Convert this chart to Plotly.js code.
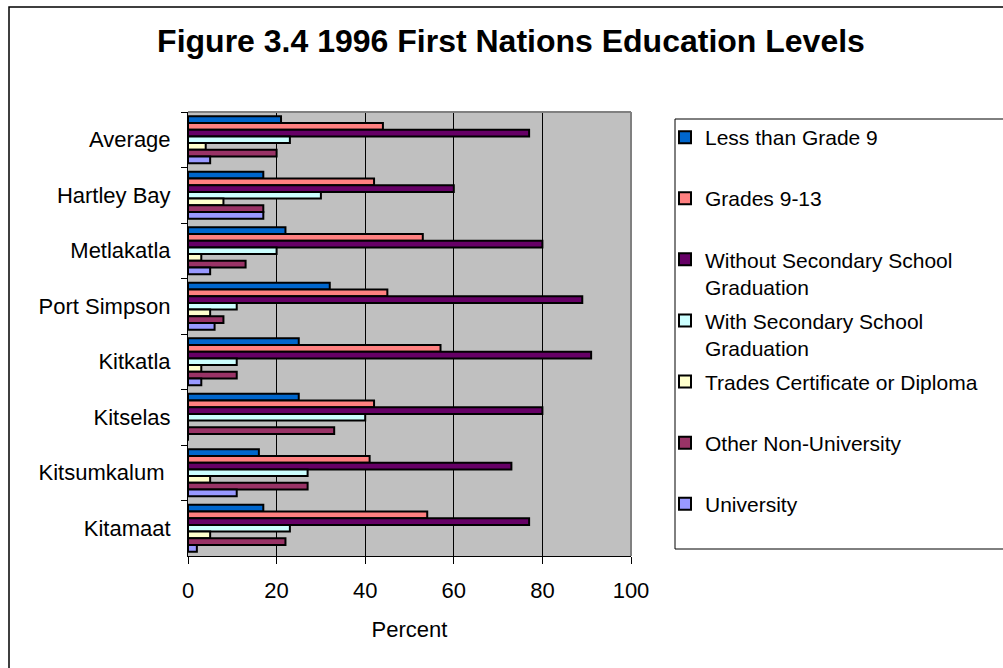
<!DOCTYPE html>
<html>
<head>
<meta charset="utf-8">
<script src="https://cdn.plot.ly/plotly-3.0.1.min.js"></script>
<style>
html,body{margin:0;padding:0;background:#fff;overflow:hidden;}
#chart{width:1003px;height:668px;}
</style>
</head>
<body>
<div id="chart"></div>
<script>
// ---- data ----
var communities = ["Average", "Hartley Bay", "Metlakatla", "Port Simpson", "Kitkatla", "Kitselas", "Kitsumkalum ", "Kitamaat"];
var seriesNames = ["Less than Grade 9", "Grades 9-13", "Without Secondary School<br>Graduation", "With Secondary School<br>Graduation", "Trades Certificate or Diploma", "Other Non-University", "University"];
var lessThanGrade9   = [21, 17, 22, 32, 25, 25, 16, 17];
var grades9to13      = [44, 42, 53, 45, 57, 42, 41, 54];
var withoutSecondary = [77, 60, 80, 89, 91, 80, 73, 77];
var withSecondary    = [23, 30, 20, 11, 11, 40, 27, 23];
var tradesCert       = [4, 8, 3, 5, 3, 0, 5, 5];
var otherNonUniv     = [20, 17, 13, 8, 11, 33, 27, 22];
var university       = [5, 17, 5, 6, 3, 0, 11, 2];
var xTickValues = [0, 20, 40, 60, 80, 100];

// ---- styling ----
var colors = ["#0066CC", "#FF8080", "#660066", "#CCFFFF", "#FFFFCC", "#993366", "#9999FF"];
var allSeries = [lessThanGrade9, grades9to13, withoutSecondary, withSecondary, tradesCert, otherNonUniv, university];

var W = 1003, H = 668;
var mL = 188, mR = 372, mT = 112, mB = 112;
var pw = W - mL - mR, ph = H - mT - mB;
function px2x(p){ return (p - mL) / pw; }
function px2y(p){ return (H - mB - p) / ph; }

var font = "Liberation Sans, Arial, sans-serif";

var traces = allSeries.map(function(vals, i){
  var nm = seriesNames[i];
  if (nm.indexOf("<br>") < 0) nm = nm + "<br>&nbsp;";
  return {
    type: "bar",
    orientation: "h",
    name: nm,
    y: communities,
    x: vals,
    legendgroup: "g" + i,
    marker: {color: colors[i], line: {color: "#000", width: 2}},
    hoverinfo: "x+y"
  };
});

var layout = {
  width: W, height: H,
  margin: {l: mL, r: mR, t: mT, b: mB, pad: 0},
  paper_bgcolor: "#ffffff",
  plot_bgcolor: "#C0C0C0",
  font: {family: font, size: 22, color: "#000"},
  title: {
    text: "<b>Figure 3.4 1996 First Nations Education Levels</b>",
    font: {family: font, size: 32, color: "#000"},
    x: 511 / W, xref: "container", xanchor: "center",
    y: 1 - 41 / H, yref: "container", yanchor: "middle"
  },
  barmode: "group",
  bargap: 0.15,
  bargroupgap: 0,
  xaxis: {
    range: [0, 100],
    tickvals: xTickValues,
    ticks: "outside", ticklen: 7, tickcolor: "#000", tickwidth: 1,
    showgrid: true, gridcolor: "#000", gridwidth: 1,
    showline: true, linecolor: "#000", linewidth: 1,
    zeroline: false,
    tickfont: {family: font, size: 22, color: "#000"},
    ticklabelstandoff: 8,
    title: {text: "Percent", font: {family: font, size: 22, color: "#000"}, standoff: 19},
    fixedrange: true
  },
  yaxis: {
    type: "category",
    autorange: "reversed",
    ticks: "outside", ticklen: 6, tickcolor: "#000", tickwidth: 1,
    tickson: "boundaries",
    showgrid: false,
    showline: true, linecolor: "#000", linewidth: 1,
    tickfont: {family: font, size: 22, color: "#000"},
    ticklabelstandoff: 12,
    fixedrange: true
  },
  showlegend: true,
  legend: {
    x: px2x(665), xanchor: "left",
    y: px2y(117), yanchor: "top",
    bgcolor: "rgba(0,0,0,0)",
    borderwidth: 0,
    font: {family: font, size: 21, color: "#000"},
    valign: "top",
    tracegroupgap: 3.5,
    traceorder: "grouped"
  },
  shapes: [
    // plot area top / right border (gray)
    {type: "line", xref: "paper", yref: "paper", x0: 0, x1: 1, y0: 1, y1: 1, line: {color: "#808080", width: 2}, layer: "above"},
    {type: "line", xref: "paper", yref: "paper", x0: 1, x1: 1, y0: 0, y1: 1, line: {color: "#808080", width: 2}, layer: "above"},
    // legend box
    {type: "rect", xref: "paper", yref: "paper", x0: px2x(675), x1: px2x(1012), y0: px2y(549), y1: px2y(119), line: {color: "#000", width: 1}, layer: "above"},
    // outer chart border
    {type: "rect", xref: "paper", yref: "paper", x0: px2x(9), x1: px2x(1020), y0: px2y(690), y1: px2y(7), line: {color: "#000", width: 1.5}, layer: "above"}
  ]
};

Plotly.newPlot("chart", traces, layout, {displayModeBar: false, staticPlot: true});
</script>
</body>
</html>
